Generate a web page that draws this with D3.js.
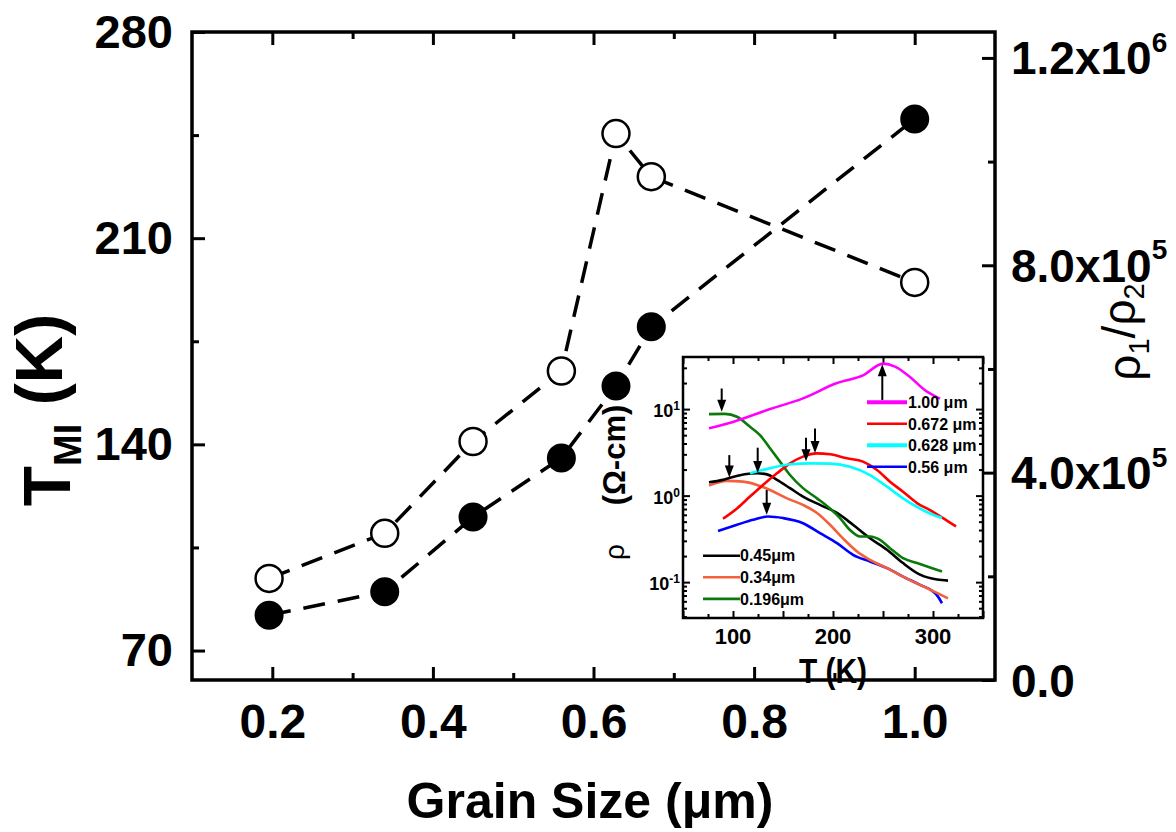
<!DOCTYPE html>
<html><head><meta charset="utf-8">
<script src="https://cdn.jsdelivr.net/npm/d3@7"></script>
<style>
body{margin:0;background:#fff}
text{font-family:"Liberation Sans",Arial,Helvetica,sans-serif}
</style>
</head><body>
<svg id="chart" width="1176" height="832"></svg>
<script>
// ---------- main data ----------
const grainSize = [0.196, 0.34, 0.45, 0.56, 0.628, 0.672, 1.00];
const tMI = [82, 90, 115.3, 135.4, 159.8, 179.9, 250.5];
const rhoRatio = [1.96e5, 2.83e5, 4.6e5, 5.96e5, 1.054e6, 9.71e5, 7.67e5];
const xTickValues = [0.2, 0.4, 0.6, 0.8, 1.0];
const xMinorValues = [0.3, 0.5, 0.7, 0.9];
const leftTickValues = [70, 140, 210, 280];
const leftMinorValues = [105, 175, 245];
const rightTickValues = [0, 4e5, 8e5, 1.2e6];
const rightTickMant = ["0.0", "4.0x10", "8.0x10", "1.2x10"];
const rightTickExp = ["", "5", "5", "6"];
const rightMinorValues = [2e5, 6e5, 1e6];

// ---------- inset data ----------
const insetXTicks = [100, 200, 300];
const insetYTicks = [0.1, 1, 10];
const insetYExp = ["-1", "0", "1"];
const t100 = [76, 100, 137, 170, 204, 230, 250, 262, 277, 292, 307];
const r100 = [6.0, 7.1, 10, 13.3, 20, 24.5, 33.5, 31, 23.5, 16.5, 13.2];
const t0672 = [90, 104, 117, 130, 144, 157, 170, 184, 197, 214, 230, 244, 257, 270, 284, 297, 310, 323];
const r0672 = [0.54, 0.71, 0.975, 1.33, 1.81, 2.36, 2.82, 3.08, 3.0, 2.7, 2.47, 1.98, 1.45, 1.11, 0.82, 0.68, 0.55, 0.44];
const t0628 = [117, 137, 157, 177, 197, 217, 237, 254, 270, 287, 300, 309];
const r0628 = [1.81, 2.07, 2.3, 2.36, 2.34, 2.16, 1.73, 1.27, 0.93, 0.71, 0.6, 0.55];
const t056 = [85, 104, 120, 135, 150, 170, 187, 204, 220, 237, 254, 270, 287, 300, 305, 309];
const r056 = [0.39, 0.46, 0.525, 0.573, 0.55, 0.48, 0.368, 0.282, 0.207, 0.173, 0.145, 0.116, 0.093, 0.078, 0.068, 0.057];
const t045 = [76, 90, 97, 124, 134, 144, 157, 170, 187, 204, 220, 237, 254, 270, 287, 304, 315];
const r045 = [1.43, 1.52, 1.61, 1.81, 1.76, 1.52, 1.22, 0.975, 0.78, 0.63, 0.46, 0.322, 0.237, 0.166, 0.122, 0.107, 0.104];
const t034 = [76, 94, 110, 124, 137, 154, 170, 184, 197, 210, 224, 237, 254, 270, 287, 304, 315];
const r034 = [1.31, 1.48, 1.45, 1.33, 1.16, 0.93, 0.78, 0.63, 0.46, 0.32, 0.226, 0.181, 0.145, 0.116, 0.093, 0.075, 0.065];
const t0196 = [76, 92, 104, 117, 127, 137, 147, 157, 170, 184, 197, 207, 217, 227, 237, 247, 257, 270, 284, 297, 309];
const r0196 = [8.75, 8.8, 8.15, 6.25, 5.0, 3.52, 2.47, 1.73, 1.22, 0.93, 0.71, 0.55, 0.40, 0.337, 0.337, 0.308, 0.247, 0.189, 0.166, 0.148, 0.133];
const seriesLabels = ["1.00 \u03bcm", "0.672 \u03bcm", "0.628 \u03bcm", "0.56 \u03bcm", "0.45\u03bcm", "0.34\u03bcm", "0.196\u03bcm"];
const seriesColors = ["#ff00ff", "#ff0000", "#00ffff", "#0000ff", "#000000", "#f4603c", "#0a7a0a"];
// arrows (T, start rho, tip rho)
const arrowT = [88.7, 96.3, 124.7, 133.7, 173, 182, 249.3];
const arrowFrom = [17.3, 2.94, 3.58, 1.16, 4.67, 5.98, 12.7];
const arrowTo = [9.3, 1.62, 1.83, 0.6, 2.5, 3.1, 33.0];

const svg = d3.select("#chart");

// ---------- main scales ----------
const x = d3.scaleLinear().domain([0.1, 1.1]).range([192, 995]);
const yL = d3.scaleLinear().domain([60, 280]).range([680, 32]);
const yR = d3.scaleLinear().domain([0, 1.25e6]).range([680, 32]);

function styleAxis(g, fs) {
  g.select(".domain").remove();
  g.selectAll(".tick line").attr("stroke", "#000").attr("stroke-width", 3);
  g.selectAll(".tick text").attr("fill", "#000").attr("font-size", fs).attr("font-weight", "bold")
    .attr("font-family", "'Liberation Sans',Arial,sans-serif");
}

// bottom axis
const gB = svg.append("g").attr("transform", "translate(0,680)")
  .call(d3.axisBottom(x).tickValues(xTickValues).tickSizeInner(-13).tickSizeOuter(0).tickPadding(24).tickFormat(d3.format(".1f")));
styleAxis(gB, 48);
const gBm = svg.append("g").attr("transform", "translate(0,680)")
  .call(d3.axisBottom(x).tickValues(xMinorValues).tickSizeInner(-7).tickSizeOuter(0).tickFormat(""));
styleAxis(gBm, 10);
// top axis (mirror)
const gT = svg.append("g").attr("transform", "translate(0,32)")
  .call(d3.axisTop(x).tickValues(xTickValues).tickSizeInner(-13).tickSizeOuter(0).tickFormat(""));
styleAxis(gT, 10);
const gTm = svg.append("g").attr("transform", "translate(0,32)")
  .call(d3.axisTop(x).tickValues(xMinorValues).tickSizeInner(-7).tickSizeOuter(0).tickFormat(""));
styleAxis(gTm, 10);
// left axis
const gL = svg.append("g").attr("transform", "translate(192,0)")
  .call(d3.axisLeft(yL).tickValues(leftTickValues).tickSizeInner(-13).tickSizeOuter(0).tickPadding(19).tickFormat(d3.format("d")));
styleAxis(gL, 47);
const gLm = svg.append("g").attr("transform", "translate(192,0)")
  .call(d3.axisLeft(yL).tickValues(leftMinorValues).tickSizeInner(-7).tickSizeOuter(0).tickFormat(""));
styleAxis(gLm, 10);
// right axis
const gR = svg.append("g").attr("transform", "translate(995,0)")
  .call(d3.axisRight(yR).tickValues(rightTickValues).tickSizeInner(-13).tickSizeOuter(0).tickFormat(""));
styleAxis(gR, 10);
const gRm = svg.append("g").attr("transform", "translate(995,0)")
  .call(d3.axisRight(yR).tickValues(rightMinorValues).tickSizeInner(-7).tickSizeOuter(0).tickFormat(""));
styleAxis(gRm, 10);
rightTickValues.forEach((v, i) => {
  const t = svg.append("text").attr("x", 1011).attr("y", yR(v)).attr("dy", "0.36em")
    .attr("font-size", 46).attr("font-weight", "bold").text(rightTickMant[i]);
  if (rightTickExp[i]) t.append("tspan").attr("dy", "-0.8em").attr("font-size", 28).text(rightTickExp[i]);
});

// frame
svg.append("rect").attr("x", 192).attr("y", 32).attr("width", 995 - 192).attr("height", 680 - 32)
  .attr("fill", "none").attr("stroke", "#000").attr("stroke-width", 3.5);

// titles
svg.append("text").attr("x", 590).attr("y", 818).attr("text-anchor", "middle")
  .attr("font-size", 50).attr("font-weight", "bold").text("Grain Size (\u03bcm)");
const lt = svg.append("text").attr("transform", "translate(70,410) rotate(-90)").attr("text-anchor", "middle")
  .attr("font-size", 66).attr("font-weight", "bold");
lt.append("tspan").text("T");
lt.append("tspan").attr("font-size", 38).attr("dy", "0.3em").text("MI");
lt.append("tspan").attr("dy", "-0.3em").text("\u00a0(K)");
const rt = svg.append("text").attr("transform", "translate(1140,332) rotate(-90)").attr("text-anchor", "middle")
  .attr("font-size", 46);
rt.append("tspan").text("\u03c1");
rt.append("tspan").attr("font-size", 29).attr("dy", "0.3em").text("1");
rt.append("tspan").attr("dy", "-0.3em").text("/\u03c1");
rt.append("tspan").attr("font-size", 29).attr("dy", "0.3em").text("2");

// main lines
const lineL = d3.line().x((d, i) => x(grainSize[i])).y(d => yL(d));
const lineR = d3.line().x((d, i) => x(grainSize[i])).y(d => yR(d));
svg.append("path").attr("d", lineL(tMI)).attr("fill", "none").attr("stroke", "#000")
  .attr("stroke-width", 3.5).attr("stroke-dasharray", "22,13");
svg.append("path").attr("d", lineR(rhoRatio)).attr("fill", "none").attr("stroke", "#000")
  .attr("stroke-width", 3.5).attr("stroke-dasharray", "22,13");
svg.selectAll("circle.f").data(tMI).enter().append("circle").attr("class", "f")
  .attr("cx", (d, i) => x(grainSize[i])).attr("cy", d => yL(d)).attr("r", 14.5).attr("fill", "#000");
svg.selectAll("circle.o").data(rhoRatio).enter().append("circle").attr("class", "o")
  .attr("cx", (d, i) => x(grainSize[i])).attr("cy", d => yR(d)).attr("r", 13.5)
  .attr("fill", "#fff").attr("stroke", "#000").attr("stroke-width", 2.5);

// ---------- inset ----------
const xi = d3.scaleLinear().domain([50, 350]).range([683, 983]);
const yi = d3.scaleLog().domain([0.0385, 40]).range([618, 357]);
svg.append("rect").attr("x", 683).attr("y", 357).attr("width", 300).attr("height", 261).attr("fill", "#fff");

const iMaj = d3.range(50, 351, 50), iMin = d3.range(75, 351, 50);
const logMinor = [];
[0.01, 0.1, 1, 10].forEach(dec => { for (let k = 2; k <= 9; k++) { const v = dec * k; if (v > 0.0385 && v < 40) logMinor.push(v); } });
function inAx(axisFn, scale, vals, size, tx, ty) {
  const g = svg.append("g").attr("transform", `translate(${tx},${ty})`)
    .call(axisFn(scale).tickValues(vals).tickSizeInner(size).tickSizeOuter(0).tickFormat(""));
  g.select(".domain").remove();
  g.selectAll(".tick line").attr("stroke", "#000").attr("stroke-width", 2);
}
inAx(d3.axisBottom, xi, iMaj, -7, 0, 618); inAx(d3.axisBottom, xi, iMin, -4, 0, 618);
inAx(d3.axisTop, xi, iMaj, -7, 0, 357); inAx(d3.axisTop, xi, iMin, -4, 0, 357);
inAx(d3.axisLeft, yi, insetYTicks, -7, 683, 0); inAx(d3.axisLeft, yi, logMinor, -4, 683, 0);
inAx(d3.axisRight, yi, insetYTicks, -7, 983, 0); inAx(d3.axisRight, yi, logMinor, -4, 983, 0);

insetXTicks.forEach(v => svg.append("text").attr("x", xi(v)).attr("y", 644).attr("text-anchor", "middle")
  .attr("font-size", 22).attr("font-weight", "bold").text(v));
insetYTicks.forEach((v, i) => {
  const t = svg.append("text").attr("x", 680).attr("y", yi(v)).attr("dy", "0.45em").attr("text-anchor", "end")
    .attr("font-size", 18).attr("font-weight", "bold");
  t.append("tspan").text("10");
  t.append("tspan").attr("dy", "-0.6em").attr("font-size", 12).text(insetYExp[i]);
});
svg.append("text").attr("x", 833).attr("y", 683).attr("text-anchor", "middle")
  .attr("font-size", 35).attr("font-weight", "bold").attr("textLength", 68).attr("lengthAdjust", "spacingAndGlyphs")
  .text("T (K)");
svg.append("text").attr("transform", "translate(625,455) rotate(-90)").attr("text-anchor", "middle")
  .attr("font-size", 31).attr("font-weight", "bold").text("(\u03a9-cm)");
svg.append("text").attr("transform", "translate(624,552) rotate(-90)").attr("text-anchor", "middle")
  .attr("font-size", 28).text("\u03c1");

const seriesT = [t100, t0672, t0628, t056, t045, t034, t0196];
const seriesR = [r100, r0672, r0628, r056, r045, r034, r0196];
const iline = d3.line().curve(d3.curveMonotoneX).x(d => xi(d[0])).y(d => yi(d[1]));
// draw order: back to front
[3, 5, 4, 6, 1, 2, 0].forEach(k => {
  const pts = seriesT[k].map((t, j) => [t, seriesR[k][j]]);
  svg.append("path").attr("d", iline(pts)).attr("fill", "none").attr("stroke", seriesColors[k]).attr("stroke-width", 2.6);
});

// arrows
arrowT.forEach((t, i) => {
  const x0 = xi(t), y0 = yi(arrowFrom[i]), y1 = yi(arrowTo[i]);
  const dir = y1 > y0 ? 1 : -1;
  svg.append("line").attr("x1", x0).attr("x2", x0).attr("y1", y0).attr("y2", y1 - dir * 10)
    .attr("stroke", "#000").attr("stroke-width", 2);
  svg.append("path").attr("d", `M${x0 - 4.5},${y1 - dir * 12}L${x0 + 4.5},${y1 - dir * 12}L${x0},${y1}Z`).attr("fill", "#000");
});

// legends
const legUpper = [0, 1, 2, 3], legLower = [4, 5, 6];
legUpper.forEach((k, j) => {
  const yy = 402.3 + j * 21.5;
  svg.append("line").attr("x1", 867).attr("x2", 907).attr("y1", yy).attr("y2", yy)
    .attr("stroke", seriesColors[k]).attr("stroke-width", k === 0 || k === 2 ? 4 : 2.6);
  svg.append("text").attr("x", 908).attr("y", yy).attr("dy", "0.36em").attr("font-size", 16).attr("font-weight", "bold")
    .text(seriesLabels[k]);
});
legLower.forEach((k, j) => {
  const yy = 555.7 + j * 21.6;
  svg.append("line").attr("x1", 703).attr("x2", 740).attr("y1", yy).attr("y2", yy)
    .attr("stroke", seriesColors[k]).attr("stroke-width", 2.6);
  svg.append("text").attr("x", 740).attr("y", yy).attr("dy", "0.36em").attr("font-size", 16).attr("font-weight", "bold")
    .text(seriesLabels[k]);
});
svg.append("rect").attr("x", 683).attr("y", 357).attr("width", 300).attr("height", 261)
  .attr("fill", "none").attr("stroke", "#000").attr("stroke-width", 2.5);
</script>
</body></html>
